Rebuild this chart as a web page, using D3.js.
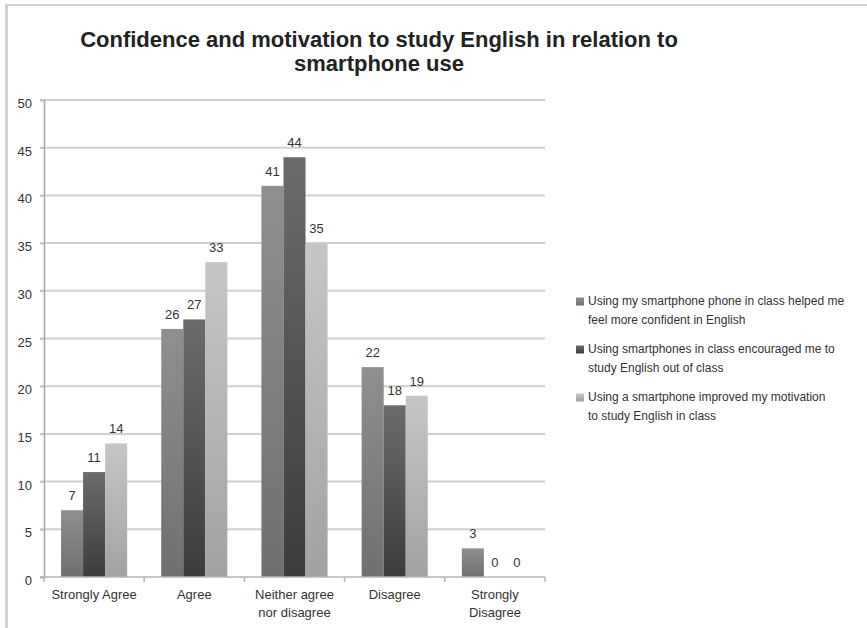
<!DOCTYPE html>
<html>
<head>
<meta charset="utf-8">
<script src="https://cdn.jsdelivr.net/npm/d3@7"></script>
<style>
  html, body { margin: 0; padding: 0; background: #ffffff; }
  svg { display: block; font-family: "Liberation Sans", Arial, Helvetica, sans-serif; }
</style>
</head>
<body>
<svg id="chart" width="867" height="628"></svg>
<script>
// Survey responses: number of students per answer, one array per statement
const categories = ["Strongly Agree", "Agree", "Neither agree nor disagree", "Disagree", "Strongly Disagree"];
const categoryLines = [["Strongly Agree"], ["Agree"], ["Neither agree", "nor disagree"], ["Disagree"], ["Strongly", "Disagree"]];
const confident = [7, 26, 41, 22, 3];
const outOfClass = [11, 27, 44, 18, 0];
const motivation = [14, 33, 35, 19, 0];
const seriesKeys = ["confident", "outOfClass", "motivation"];
const seriesNames = [
  ["Using my smartphone phone in class helped me", "feel more confident in English"],
  ["Using smartphones in class encouraged me to", "study English out of class"],
  ["Using a smartphone improved my motivation", "to study English in class"]
];
const yTicks = [0, 5, 10, 15, 20, 25, 30, 35, 40, 45, 50];
const titleLines = ["Confidence and motivation to study English in relation to", "smartphone use"];

const seriesValues = [confident, outOfClass, motivation];
const rows = categories.map((c, i) => ({
  category: c,
  values: seriesKeys.map((k, s) => ({ key: k, series: s, value: seriesValues[s][i] }))
}));

// Bar shading: top and bottom stop of each series' vertical gradient
const shades = [
  ["#8f8f8f", "#707070"],
  ["#6c6c6c", "#3c3c3c"],
  ["#c6c6c6", "#a2a2a2"]
];

const svg = d3.select("#chart");
const plot = { left: 44, right: 545, top: 100, bottom: 577 };

const defs = svg.append("defs");
shades.forEach((s, i) => {
  const g = defs.append("linearGradient")
    .attr("id", "shade" + i)
    .attr("x1", 0).attr("y1", 0).attr("x2", 0).attr("y2", 1);
  g.append("stop").attr("offset", "0%").attr("stop-color", s[0]);
  g.append("stop").attr("offset", "100%").attr("stop-color", s[1]);
});

// Frame edges
svg.append("rect").attr("x", 5).attr("y", 4).attr("width", 862).attr("height", 2).attr("fill", "#d2d2d2");
svg.append("rect").attr("x", 5).attr("y", 4).attr("width", 3).attr("height", 624).attr("fill", "#d2d2d2");

// Title
const title = svg.append("text")
  .attr("text-anchor", "middle")
  .attr("font-size", 22)
  .attr("font-weight", "bold")
  .attr("fill", "#222");
titleLines.forEach((t, i) => {
  title.append("tspan").attr("x", 379).attr("y", 47 + i * 24).text(t);
});

const x0 = d3.scaleBand()
  .domain(categories)
  .range([plot.left, plot.right])
  .paddingInner(0.34)
  .paddingOuter(0.17);
const x1 = d3.scaleBand()
  .domain(seriesKeys)
  .range([0, x0.bandwidth()]);
const y = d3.scaleLinear().domain([0, 50]).range([plot.bottom, plot.top]);

// Gridlines
svg.append("g")
  .selectAll("line")
  .data(yTicks.filter(d => d > 0))
  .join("line")
  .attr("x1", plot.left - 4)
  .attr("x2", plot.right)
  .attr("y1", d => y(d))
  .attr("y2", d => y(d))
  .attr("stroke", "#d0d0d0")
  .attr("stroke-width", 2);

// Y axis
const yAxis = svg.append("g")
  .attr("transform", `translate(${plot.left},0)`)
  .call(d3.axisLeft(y).tickValues(yTicks).tickSize(4).tickPadding(8));
yAxis.select(".domain").attr("stroke", "#a8a8a8").attr("stroke-width", 1.5);
yAxis.selectAll(".tick line").attr("stroke", "#bdbdbd").attr("stroke-width", 1.5);
yAxis.selectAll(".tick text")
  .attr("font-size", 13)
  .attr("font-family", "Liberation Sans, Arial, sans-serif")
  .attr("fill", "#333")
  .attr("dy", "0.58em");

// Bars
const groups = svg.append("g")
  .selectAll("g")
  .data(rows)
  .join("g")
  .attr("transform", d => `translate(${x0(d.category)},0)`);

groups.selectAll("rect")
  .data(d => d.values)
  .join("rect")
  .attr("x", d => x1(d.key))
  .attr("width", x1.bandwidth())
  .attr("y", d => y(d.value))
  .attr("height", d => y(0) - y(d.value))
  .attr("fill", d => `url(#shade${d.series})`);

groups.selectAll("text")
  .data(d => d.values)
  .join("text")
  .attr("x", d => x1(d.key) + x1.bandwidth() / 2)
  .attr("y", d => y(d.value) - 10)
  .attr("text-anchor", "middle")
  .attr("font-size", 13)
  .attr("fill", "#333")
  .text(d => d.value);

// X axis with ticks between categories
const xAxisG = svg.append("g");
xAxisG.append("line")
  .attr("x1", plot.left - 4).attr("x2", plot.right)
  .attr("y1", plot.bottom).attr("y2", plot.bottom)
  .attr("stroke", "#b4b4b4").attr("stroke-width", 1.5);
const step = x0.step();
const boundaries = categories.map((c, i) => x0(c) - x0.paddingOuter() * step + (i === 0 ? 0 : 0));
boundaries.push(plot.right);
xAxisG.selectAll("line.tk")
  .data(boundaries)
  .join("line")
  .attr("class", "tk")
  .attr("x1", d => d).attr("x2", d => d)
  .attr("y1", plot.bottom).attr("y2", plot.bottom + 5)
  .attr("stroke", "#b4b4b4").attr("stroke-width", 1.5);

// Category labels
const catLabels = xAxisG.selectAll("text.cat")
  .data(categories)
  .join("text")
  .attr("class", "cat")
  .attr("text-anchor", "middle")
  .attr("font-size", 13)
  .attr("fill", "#333");
catLabels.each(function (c, i) {
  const t = d3.select(this);
  categoryLines[i].forEach((line, j) => {
    t.append("tspan")
      .attr("x", x0(c) + x0.bandwidth() / 2)
      .attr("y", 599 + j * 18)
      .text(line);
  });
});

// Legend
const legend = svg.append("g");
seriesNames.forEach((lines, i) => {
  const baseY = 305 + i * 48;
  legend.append("rect")
    .attr("x", 576).attr("y", baseY - 7.5)
    .attr("width", 8).attr("height", 8)
    .attr("fill", `url(#shade${i})`);
  const t = legend.append("text")
    .attr("font-size", 12)
    .attr("fill", "#333");
  lines.forEach((line, j) => {
    t.append("tspan").attr("x", 588).attr("y", baseY + j * 18.5).text(line);
  });
});
</script>
</body>
</html>
